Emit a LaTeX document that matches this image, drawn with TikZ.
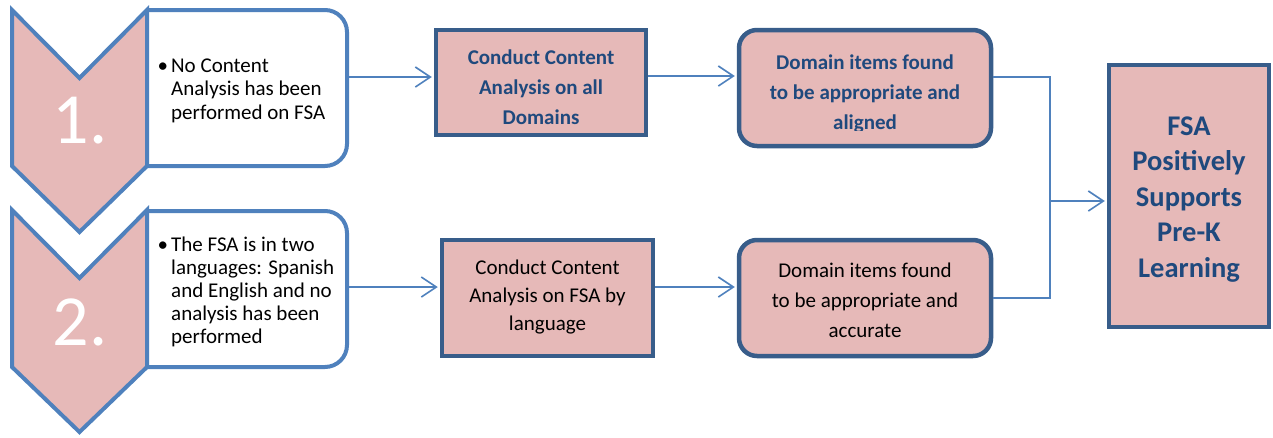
\documentclass[tikz,border=0pt]{standalone}
\usepackage{fontspec}
\setmainfont{Carlito}
\usetikzlibrary{arrows.meta}
\definecolor{pinkfill}{HTML}{E6B9B8}
\definecolor{lblue}{HTML}{4F81BD}
\definecolor{dborder}{HTML}{385D8A}
\definecolor{dtext}{HTML}{1F497D}
\begin{document}
\begin{tikzpicture}[x=1pt,y=-1pt,
  chev/.style={fill=pinkfill,draw=lblue,line width=4pt,line join=miter},
  listbox/.style={fill=white,draw=lblue,line width=4pt,rounded corners=22pt},
  holder/.style={rectangle,draw=none,inner sep=0pt},
  sqbox/.style={rectangle,fill=pinkfill,draw=dborder,line width=4.5pt,inner sep=0pt},
  rbox/.style={sqbox,rounded corners=18pt},
  conn/.style={draw=lblue,line width=1.6pt,shorten >=2pt,-{Straight Barb[length=15pt,width=20pt]}},
  link/.style={draw=lblue,line width=1.6pt},
  listtxt/.style={inner sep=0pt,anchor=base west,align=left,font=\fontsize{21}{23.5}\selectfont},
  numtxt/.style={inner sep=0pt,anchor=base,text=white,font=\fontsize{72}{72}\selectfont},
  boldtxt/.style={inner sep=0pt,anchor=base,align=center,text=dtext,font=\fontsize{21}{30}\selectfont\bfseries},
  plaintxt/.style={inner sep=0pt,anchor=base,align=center,text=black,font=\fontsize{21}{30}\selectfont},
  fsatxt/.style={inner sep=0pt,anchor=base,align=center,text=dtext,font=\fontsize{28.5}{35.5}\selectfont\bfseries}
]
\useasboundingbox (0,0) rectangle (1273,437);

% list boxes (right corners rounded)
\draw[listbox] (147,10) -- (347,10) -- (347,166) -- (147,166);
\draw[listbox] (147,211) -- (347,211) -- (347,367) -- (147,367);
\node[holder,minimum width=200pt,minimum height=156pt] (t1) at (247,88) {};
\node[holder,minimum width=200pt,minimum height=156pt] (t2) at (247,289) {};

% chevrons
\draw[chev] (12,10) -- (79.5,78) -- (147,10) -- (147,166) -- (79.5,232) -- (12,166) -- cycle;
\draw[chev] (12,210) -- (79.5,278) -- (147,210) -- (147,367) -- (79.5,432) -- (12,367) -- cycle;
\node[numtxt] (n1) at (80,143) {1.};
\node[numtxt] (n2) at (80,345) {2.};

% list texts (anchor base = baseline of last line)
\node[listtxt] (l1) at (171,119) {\llap{•\hspace{3pt}}No Content\\Analysis has been\\performed on FSA};
\node[listtxt,font=\fontsize{21}{23}\selectfont] (l2) at (171,343.5) {\llap{•\hspace{3pt}}The FSA is in two\\languages: Spanish\\and English and no\\analysis has been\\performed};

% process boxes
\node[sqbox,minimum width=210pt,minimum height=105pt] (c1) at (541,82.5) {};
\node[boldtxt] at (541,124) {Conduct Content\\Analysis on all\\Domains};

\node[rbox,minimum width=252pt,minimum height=116pt] (d1) at (865,88) {};
\begin{scope}
  \clip (740,32) rectangle (990,130);
  \node[boldtxt] at (865,129) {Domain items found\\to be appropriate and\\aligned};
\end{scope}

\node[sqbox,minimum width=211pt,minimum height=116pt] (c2) at (547.5,298) {};
\node[plaintxt,font=\fontsize{21}{28}\selectfont] at (547.5,330) {Conduct Content\\Analysis on FSA by\\language};

\node[rbox,minimum width=252pt,minimum height=116pt] (d2) at (865,298) {};
\node[plaintxt] at (865,337) {Domain items found\\to be appropriate and\\accurate};

\node[sqbox,minimum width=160pt,minimum height=262pt] (fsa) at (1189,196) {};
\node[fsatxt] at (1189,277) {FSA\\Positively\\Supports\\Pre-K\\Learning};

% connectors
\draw[conn] (t1.east |- 0,77) -- (c1.west |- 0,77);
\draw[conn] (c1.east |- 0,76) -- (d1.west |- 0,76);
\draw[conn] (t2.east |- 0,287) -- (c2.west |- 0,287);
\draw[conn] (c2.east |- 0,287) -- (d2.west |- 0,287);
\coordinate (j) at (1050,201);
\draw[link] (d1.east |- 0,77) -- (j |- 0,77) -- (j |- 0,298) -- (d2.east |- 0,298);
\draw[conn] (j) -- (fsa.west |- j);
\end{tikzpicture}
\end{document}
